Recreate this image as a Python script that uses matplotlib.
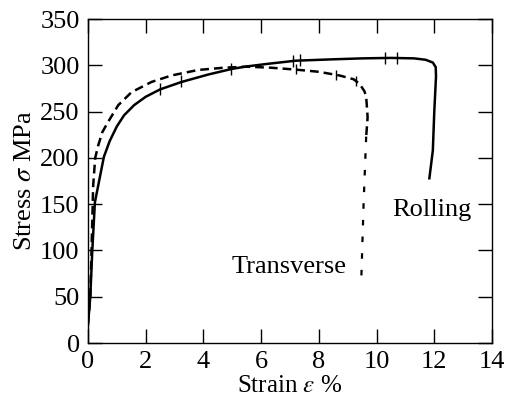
import numpy as np
import matplotlib.pyplot as plt

plt.rcParams["font.family"] = ["Liberation Serif", "DejaVu Serif"]
plt.rcParams["mathtext.fontset"] = "stix"

# Rolling direction (solid curve)
roll_strain = [0.0, 0.08, 0.15, 0.24, 0.55, 0.75, 1.0, 1.25, 1.6, 2.0, 2.5, 3.24,
               4.16, 4.97, 5.43, 6.2, 7.2, 8.5, 9.5, 10.5, 11.3, 11.7, 11.95, 12.05,
               12.06, 12.0, 11.95, 11.83]
roll_stress = [20, 50, 100, 152, 201, 218, 234, 246, 257, 266, 274, 282,
               290, 296, 298.5, 301.5, 305, 306.5, 307.5, 308, 307.5, 306, 303, 298,
               288, 250, 208, 178]

# Transverse direction (dashed curve)
trans_strain = [0.0, 0.08, 0.14, 0.18, 0.25, 0.36, 0.50, 0.70, 1.05, 1.51, 2.2, 2.89,
                3.82, 4.74, 5.5, 6.3, 7.16, 8.0, 8.72, 9.2, 9.41, 9.58, 9.64, 9.69, 9.64]
trans_stress = [20, 50, 120, 170, 200, 214, 228, 239, 257, 271, 282, 289,
                295, 297.5, 298.5, 297.5, 295.5, 293, 289, 285, 280, 272, 266, 244, 223]
tail_strain = [9.64, 9.55, 9.47]
tail_stress = [223, 150, 68]

# small extensometer marks along the curves
roll_mark_x = [2.5, 3.24, 4.97, 7.1, 7.35, 10.3, 10.7]
roll_mark_y = [274, 283, 296.5, 305, 305.5, 308, 308]
trans_mark_x = [7.2, 8.6, 9.3]
trans_mark_y = [295.5, 290, 283]

fig = plt.figure(figsize=(5.1, 4.05), dpi=100)
ax = fig.add_axes([0.1725, 0.153, 0.7922, 0.8])

ax.plot(roll_strain, roll_stress, color="black", lw=1.8)
ax.plot(trans_strain, trans_stress, color="black", lw=1.8, ls=(0, (3.5, 2)))
ax.plot(tail_strain, tail_stress, color="black", lw=1.6, ls=(0, (2.5, 5)))
ax.plot(roll_mark_x, roll_mark_y, ls="none", marker="|", ms=9, mew=1.0, color="black")
ax.plot(trans_mark_x, trans_mark_y, ls="none", marker="|", ms=7, mew=1.0, color="black")

ax.text(11.9, 144, "Rolling", fontsize=19, ha="center", va="center")
ax.text(6.96, 82, "Transverse", fontsize=19, ha="center", va="center")

ax.set_xlim(0, 14)
ax.set_ylim(0, 350)
ax.set_xticks(np.arange(0, 15, 2))
ax.set_yticks(np.arange(0, 351, 50))
ax.tick_params(direction="in", length=10, width=1, top=True, right=True,
               labelsize=19, pad=6)
for s in ax.spines.values():
    s.set_linewidth(1.0)

ax.set_xlabel(r"Strain $\varepsilon$ %", fontsize=18, labelpad=1)
ax.set_ylabel(r"Stress $\sigma$ MPa", fontsize=19, labelpad=3)

fig.savefig("out.png", dpi=100)
